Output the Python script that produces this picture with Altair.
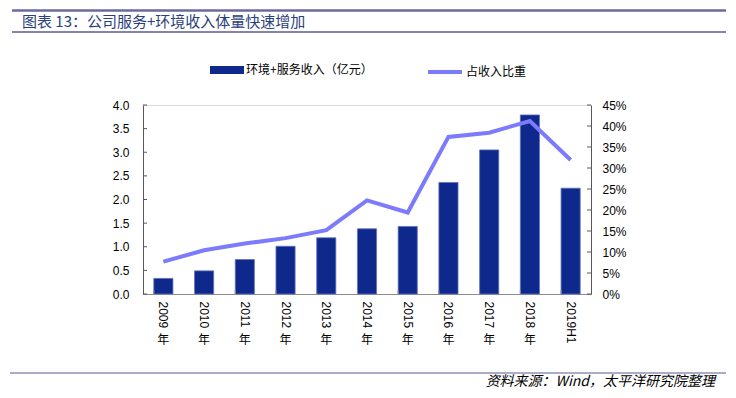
import altair as alt
import pandas as pd

years = ["2009", "2010", "2011", "2012", "2013", "2014", "2015", "2016", "2017", "2018", "2019H1"]
nian = ["年", "年", "年", "年", "年", "年", "年", "年", "年", "年", ""]
revenue = [0.33, 0.49, 0.73, 1.01, 1.19, 1.38, 1.43, 2.36, 3.05, 3.79, 2.24]
share = [0.077, 0.104, 0.120, 0.133, 0.152, 0.223, 0.194, 0.374, 0.384, 0.412, 0.319]
left_ticks = [0.0, 0.5, 1.0, 1.5, 2.0, 2.5, 3.0, 3.5, 4.0]
right_ticks = [0.0, 0.05, 0.10, 0.15, 0.20, 0.25, 0.30, 0.35, 0.40, 0.45]

bar_name = "环境+服务收入（亿元）"
line_name = "占收入比重"
title_text = "图表 13：公司服务+环境收入体量快速增加"
source_text = "资料来源：Wind，太平洋研究院整理"

BAR = "#0f288c"
LINE = "#7b7bfc"
W, H = 448, 189
NUM_FONT = "Liberation Sans"
CJK = "Noto Sans CJK SC"

df = pd.DataFrame({"year": years, "nian": nian, "rev": revenue, "share": share,
                   "s1": [bar_name] * len(years), "s2": [line_name] * len(years)})
lt = pd.DataFrame({"v": left_ticks})
rt = pd.DataFrame({"v": right_ticks})
yr = pd.DataFrame({"year": years})

xsc = alt.Scale(domain=years, paddingInner=0.53)
ysc_l = alt.Scale(domain=[0, 4], nice=False, zero=True)
ysc_r = alt.Scale(domain=[0, 0.45], nice=False, zero=True)

xaxis = alt.Axis(title=None, labelAngle=90, labelAlign="left", labelBaseline="middle",
                 labelPadding=7, ticks=False, tickSize=0, domainColor="#8c8c8c",
                 labelFont=NUM_FONT, labelFontSize=12, labelColor="#000000")
xenc = alt.X("year:N", scale=xsc, sort=years, axis=xaxis)

bars = alt.Chart(df).mark_bar(stroke="#5f72c0", strokeWidth=0.8).encode(
    x=xenc,
    y=alt.Y("rev:Q", scale=ysc_l,
            axis=alt.Axis(orient="left", title=None, values=left_ticks, format=".1f",
                          ticks=False, tickSize=0, labelPadding=14, grid=False,
                          domainColor="#595959", labelFont=NUM_FONT, labelFontSize=12,
                          labelColor="#000000")),
    color=alt.Color("s1:N", scale=alt.Scale(domain=[bar_name], range=[BAR]),
                    legend=alt.Legend(orient="none", legendX=67, legendY=-52, title=None,
                                      symbolType="M-1,-0.235H1V0.235H-1Z", symbolSize=1156,
                                      symbolStrokeWidth=0, labelFont=CJK, labelFontSize=12,
                                      labelColor="#000000", labelOffset=2, padding=0)),
)

line = alt.Chart(df).mark_line(strokeWidth=4).encode(
    x=xenc,
    y=alt.Y("share:Q", scale=ysc_r,
            axis=alt.Axis(orient="right", title=None, values=right_ticks, format=".0%",
                          ticks=False, tickSize=0, labelPadding=11, grid=False,
                          domainColor="#595959", labelFont=NUM_FONT, labelFontSize=12,
                          labelColor="#000000")),
    stroke=alt.Stroke("s2:N", scale=alt.Scale(domain=[line_name], range=[LINE]),
                      legend=alt.Legend(orient="none", legendX=283, legendY=-52, title=None,
                                        symbolType="stroke", symbolSize=1156,
                                        symbolStrokeWidth=4, labelFont=CJK, labelFontSize=12,
                                        labelColor="#000000", labelOffset=2, padding=0)),
)

lticks = alt.Chart(lt).mark_rule(color="#595959").encode(
    y=alt.Y("v:Q", scale=ysc_l, axis=None), x=alt.value(0), x2=alt.value(4))
rticks = alt.Chart(rt).mark_rule(color="#595959").encode(
    y=alt.Y("v:Q", scale=ysc_r, axis=None), x=alt.value(W - 4), x2=alt.value(W))
xticks = alt.Chart(yr).mark_rule(color="#8c8c8c").encode(
    x=alt.X("year:N", scale=xsc, sort=years, axis=xaxis, bandPosition=0),
    y=alt.value(H - 4), y2=alt.value(H))

nian_txt = alt.Chart(df).mark_text(font=CJK, fontSize=12, color="#000000", baseline="middle").encode(
    x=xenc, y=alt.value(235), text="nian:N")

hdr = pd.DataFrame({"t": [title_text]})
top_bar = alt.Chart(hdr).mark_rule(color="#6b6b9b", strokeWidth=2.5).encode(
    x=alt.value(-131), x2=alt.value(583), y=alt.value(-94.5))
under = alt.Chart(hdr).mark_rule(color="#5b5b92", strokeWidth=1.5).encode(
    x=alt.value(-131), x2=alt.value(583), y=alt.value(-73))
title = alt.Chart(hdr).mark_text(font=CJK, fontSize=15, color="#2b3f7c", align="left",
                                 baseline="middle").encode(
    x=alt.value(-121), y=alt.value(-83), text="t:N")
bottom = alt.Chart(hdr).mark_rule(color="#5b5b92", strokeWidth=1).encode(
    x=alt.value(-133), x2=alt.value(583), y=alt.value(268))
src = alt.Chart(pd.DataFrame({"t": [source_text]})).mark_text(
    font=CJK, fontSize=14, fontStyle="italic", color="#000000", align="right",
    baseline="middle").encode(x=alt.value(572), y=alt.value(277), text="t:N")

chart = alt.layer(
    bars, line, lticks, rticks, xticks, nian_txt, top_bar, under, title, bottom, src
).resolve_scale(y="independent").properties(
    width=W, height=H,
    autosize=alt.AutoSizeParams(type="none"),
    padding={"left": 135, "top": 97, "right": 137, "bottom": 96},
).configure_view(stroke=None).configure(background="#ffffff")

chart.save("out.html", embed_options={"renderer": "svg", "actions": False})
